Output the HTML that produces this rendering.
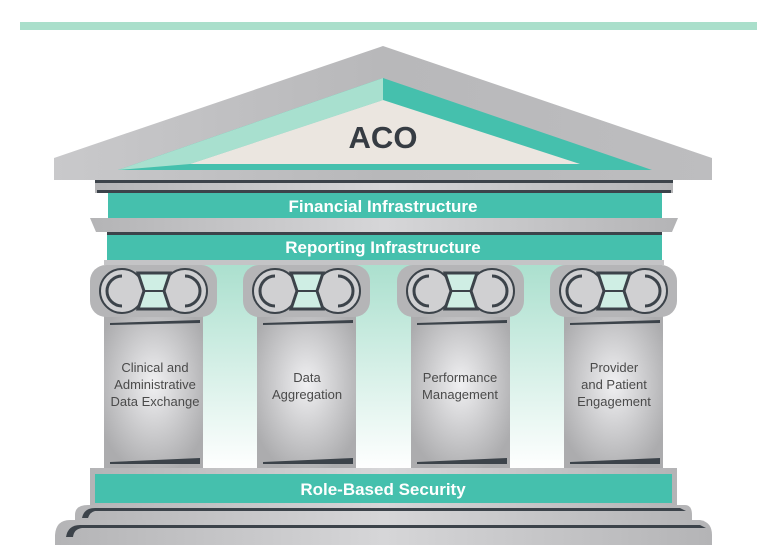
<!DOCTYPE html>
<html><head><meta charset="utf-8"><style>
html,body{margin:0;padding:0;background:#fff;width:767px;height:560px;overflow:hidden}
svg{display:block}
text{font-family:"Liberation Sans",sans-serif}
</style></head><body>
<svg width="767" height="560" viewBox="0 0 767 560" xmlns="http://www.w3.org/2000/svg">
<defs>
<linearGradient id="roof" x1="0" y1="0" x2="1" y2="0">
<stop offset="0" stop-color="#c9c9cb"/><stop offset="0.5" stop-color="#b8b8ba"/><stop offset="1" stop-color="#bdbdbf"/></linearGradient>
<linearGradient id="bg" x1="0" y1="0" x2="0" y2="1">
<stop offset="0" stop-color="#a9dfcd"/><stop offset="1" stop-color="#ffffff"/></linearGradient>
<radialGradient id="shaft" cx="0.5" cy="0.45" r="0.6">
<stop offset="0" stop-color="#f0f0f2"/><stop offset="1" stop-color="#acacae"/></radialGradient>
<linearGradient id="gray" x1="0" y1="0" x2="1" y2="0">
<stop offset="0" stop-color="#b4b4b6"/><stop offset="0.5" stop-color="#d6d6d8"/><stop offset="1" stop-color="#b4b4b6"/></linearGradient>
<g id="col">
<rect x="14" y="50" width="99" height="153" fill="url(#shaft)"/>
<rect x="0" y="0" width="127" height="52" rx="16" fill="#b5b5b7"/>
<circle cx="32" cy="26" r="22" fill="#d0d0d2" stroke="#3c434a" stroke-width="2"/>
<circle cx="95" cy="26" r="22" fill="#d0d0d2" stroke="#3c434a" stroke-width="2"/>
<path d="M32 11 A15 15 0 0 0 32 41" fill="none" stroke="#3c434a" stroke-width="3"/>
<path d="M95 11 A15 15 0 0 1 95 41" fill="none" stroke="#3c434a" stroke-width="3"/>
<path d="M48 8 L80 8 L74 26 L80 44 L48 44 L54 26 Z" fill="#cfeee4" stroke="#3c434a" stroke-width="3"/>
<line x1="54" y1="26" x2="74" y2="26" stroke="#3c434a" stroke-width="2"/>
<path d="M20 58 L110 55 L110 58 L20 60 Z" fill="#3c434a"/>
<path d="M20 197 L110 193 L110 199 L20 199 Z" fill="#3c434a"/>
</g>
</defs>
<rect x="20" y="22" width="737" height="8" fill="#aadfcb"/>
<rect x="108" y="260" width="554" height="210" fill="url(#bg)"/>
<polygon points="383,46 712,158 712,180 54,180 54,158" fill="url(#roof)"/>
<polygon points="383,78 652,170 118,170" fill="#45c0ad"/>
<polygon points="383,78 383,100 190,164 118,170" fill="#a8e0cf"/>
<polygon points="383,100 580,164 190,164" fill="#ebe6e0"/>
<text x="383" y="148" text-anchor="middle" font-size="31" font-weight="bold" fill="#363c43">ACO</text>
<rect x="95" y="180" width="578" height="13" fill="url(#gray)"/>
<rect x="95" y="180" width="578" height="3" fill="#3c434a"/>
<rect x="97" y="190" width="574" height="3" fill="#3c434a"/>
<rect x="108" y="193" width="554" height="25" fill="#45c0ad"/>
<text x="383" y="212" text-anchor="middle" font-size="17" font-weight="bold" fill="#fff">Financial Infrastructure</text>
<polygon points="90,218 678,218 672,232 96,232" fill="url(#gray)"/>
<rect x="107" y="232" width="555" height="3" fill="#3c434a"/>
<rect x="107" y="235" width="555" height="25" fill="#45c0ad"/>
<text x="383" y="253" text-anchor="middle" font-size="17" font-weight="bold" fill="#fff">Reporting Infrastructure</text>
<rect x="104" y="260" width="560" height="5" fill="#c4c4c6"/>
<use href="#col" x="90" y="265"/>
<use href="#col" x="243" y="265"/>
<use href="#col" x="397" y="265"/>
<use href="#col" x="550" y="265"/>
<g font-size="13" fill="#4a4a4a" text-anchor="middle">
<text x="155" y="372">Clinical and</text><text x="155" y="389">Administrative</text><text x="155" y="406">Data Exchange</text>
<text x="307" y="382">Data</text><text x="307" y="399">Aggregation</text>
<text x="460" y="382">Performance</text><text x="460" y="399">Management</text>
<text x="614" y="372">Provider</text><text x="614" y="389">and Patient</text><text x="614" y="406">Engagement</text>
</g>
<rect x="90" y="468" width="587" height="37" fill="url(#gray)"/>
<rect x="95" y="474" width="577" height="29" fill="#45c0ad"/>
<text x="383" y="495" text-anchor="middle" font-size="17" font-weight="bold" fill="#fff">Role-Based Security</text>
<path d="M88 505 L685 505 Q692 505 692 515 L692 520 L75 520 L75 515 Q75 505 88 505 Z" fill="url(#gray)"/>
<path d="M82 518 Q84 508 95 508 L680 508 L686 511 L95 511 Q90 512 88 518 Z" fill="#3c434a"/>
<path d="M70 520 L700 520 Q712 522 712 535 L712 545 L55 545 L55 535 Q56 520 70 520 Z" fill="url(#gray)"/>
<path d="M66 537 Q68 525 80 525 L700 525 L706 528 L82 528 Q74 529 73 537 Z" fill="#3c434a"/>
</svg>
</body></html>
